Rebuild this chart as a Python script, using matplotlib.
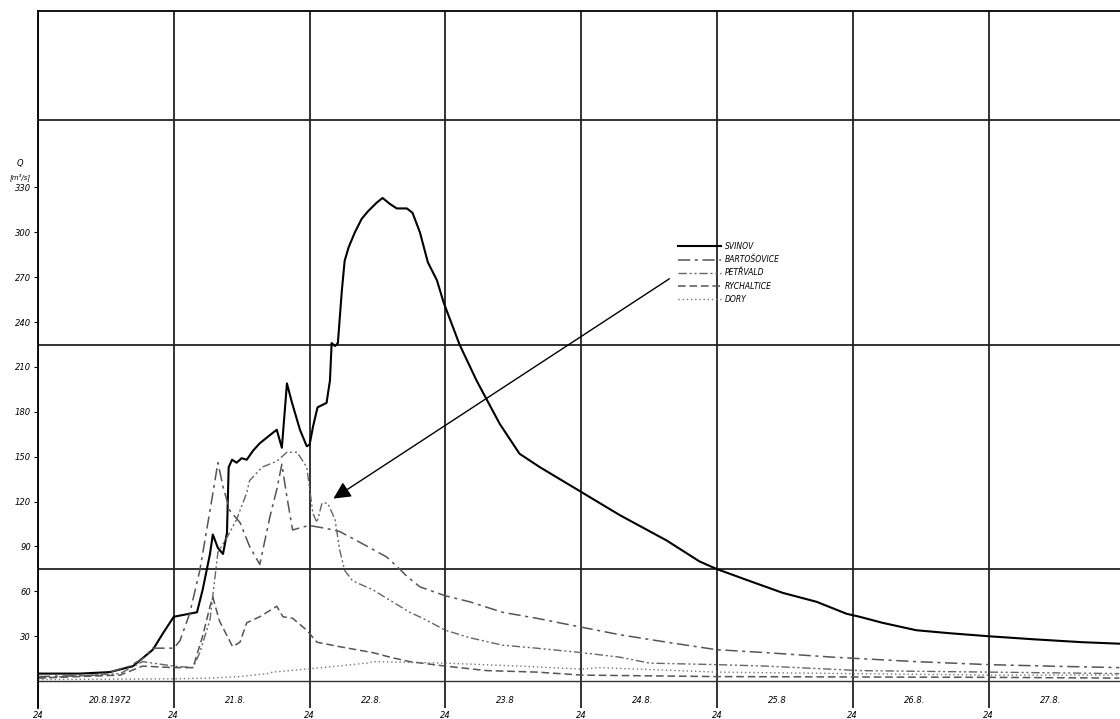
import matplotlib.pyplot as plt

# hydrograph, flood of August 1972 (time in hours from 20.8. 0:00, Q in m3/s)
svinov_t = [0, 7.4, 12.7, 16.8, 20.3, 22.1, 24.0, 28.1, 29.1, 30.4, 30.9, 31.8,
            32.7, 33.4, 33.7, 34.3, 35.1, 36.0, 36.9, 38.0, 39.2, 41.5, 42.2,
            43.1, 44.0, 44.9, 46.3, 47.5, 48.0, 48.6, 49.4, 51.0, 51.6, 51.9,
            52.5, 53.0, 53.7, 54.2, 54.9, 56.0, 57.2, 58.3, 59.9, 60.9, 62.2,
            63.4, 65.2, 66.2, 67.5, 68.9, 70.5, 71.7, 74.5, 77.5, 81.6, 85.1,
            88.7, 96.2, 102.8, 111.1, 116.9, 119.9, 125.7, 131.6, 137.6,
            142.9, 145.2, 149.2, 155.2, 161.1, 167.9, 175.7, 184.5, 191.1]
svinov_q = [5, 5, 6, 10, 21, 32, 43, 46, 61, 85, 98, 89,
            85, 99, 143, 148, 146, 149, 148, 154, 159, 166, 168,
            156, 199, 186, 168, 157, 158, 170, 183, 186, 201, 226,
            224, 226, 261, 281, 290, 300, 309, 314, 320, 323, 319,
            316, 316, 313, 300, 280, 268, 253, 225, 201, 172, 152,
            143, 126, 111, 94, 80, 75, 67, 59, 53,
            45, 43, 39, 34, 32, 30, 28, 26, 25]

bartosovice_t = [0, 10.9, 16.2, 18.5, 20.3, 24.0, 25.1, 26.8, 28.6, 30.4, 31.8,
                 32.7, 33.9, 35.7, 37.4, 39.2, 41.0, 42.2, 43.1, 44.0, 45.0,
                 46.8, 48.0, 51.0, 53.3, 56.3, 59.2, 61.6, 63.9, 65.2, 67.5,
                 72.0, 76.3, 82.1, 88.1, 96.1, 102.8, 111.1, 119.9, 128.7,
                 140.4, 155.2, 167.9, 178.7, 191.1]
bartosovice_q = [3, 4, 10, 15, 22, 22, 27, 45, 74, 114, 146,
                 130, 114, 106, 90, 78, 110, 128, 145, 123, 101,
                 103, 104, 102, 100, 94, 88, 83, 75, 70, 63,
                 57, 53, 46, 42, 36, 31, 26, 21, 19,
                 16, 13, 11, 10, 9]

petrvald_t = [0, 14.5, 18.5, 24.0, 27.4, 28.6, 30.4, 31.8, 33.4, 35.1, 36.9,
              37.4, 39.6, 42.2, 44.0, 45.8, 47.5, 48.6, 49.3, 50.2, 51.2,
              52.5, 53.3, 54.2, 55.6, 59.2, 62.2, 65.7, 68.0, 72.0, 76.3,
              82.1, 88.1, 96.1, 102.8, 108.1, 119.9, 128.7, 145.2, 167.9, 191.1]
petrvald_q = [2, 5, 13, 10, 9, 19, 41, 86, 96, 108, 126,
              134, 143, 147, 153, 153, 143, 112, 106, 119, 119,
              108, 88, 74, 67, 61, 54, 46, 42, 34, 29,
              24, 22, 19, 16, 12, 11, 10, 7, 6, 5]

rychaltice_t = [0, 14.5, 18.5, 24.0, 27.4, 29.1, 30.4, 30.9, 32.1, 34.4, 35.7,
                36.9, 39.2, 42.2, 43.3, 45.0, 47.5, 49.3, 53.3, 59.2, 62.2,
                65.7, 72.0, 79.3, 88.1, 96.1, 119.9, 167.9, 191.1]
rychaltice_q = [2, 4, 10, 9, 9, 30, 50, 56, 40, 23, 26,
                39, 43, 50, 43, 42, 34, 26, 23, 19, 16,
                13, 10, 7, 6, 4, 3, 2.5, 2]

dory_t = [0, 24.0, 30.4, 35.7, 40.5, 41.5, 50.3, 58.1, 59.2, 72.0, 85.1,
          96.1, 99.2, 119.9, 143.5, 167.9, 191.1]
dory_q = [1, 1.5, 2, 3, 5, 6, 9, 12, 13, 12, 10,
          8, 9, 6, 5, 4, 4]

day_labels = ["20.8.1972", "21.8.", "22.8.", "23.8", "24.8.", "25.8", "26.8.", "27.8."]
q_ticks = [30, 60, 90, 120, 150, 180, 210, 240, 270, 300, 330]


def main():
    fig = plt.figure(figsize=(11.2, 7.19), dpi=100)
    ax = fig.add_axes([0.0339, 0.0153, 0.966, 0.9694])

    ax.plot(svinov_t, svinov_q, color="black", lw=1.5, label="SVINOV")
    ax.plot(bartosovice_t, bartosovice_q, color="#555555", lw=1.1,
            ls=(0, (8, 3, 2, 3)), label="BARTOŠOVICE")
    ax.plot(petrvald_t, petrvald_q, color="#666666", lw=1.0,
            ls=(0, (6, 2, 1.5, 2, 1.5, 2)), label="PETŘVALD")
    ax.plot(rychaltice_t, rychaltice_q, color="#555555", lw=1.1,
            ls=(0, (5, 2.5)), label="RYCHALTICE")
    ax.plot(dory_t, dory_q, color="#777777", lw=1.0,
            ls=(0, (1, 2)), label="DORY")
    ax.axhline(0, color="#333333", lw=1.0)

    ax.set_xlim(0, 191.2)
    ax.set_ylim(-18, 448)

    # grid: days and every 75 m3/s
    ax.set_xticks(range(0, 192, 24))
    ax.set_xticklabels(["24"] * 8, fontsize=6, style="italic")
    ax.set_yticks(q_ticks)
    ax.set_yticklabels([str(q) for q in q_ticks], fontsize=6, style="italic")
    ax.set_yticks(range(75, 449, 75), minor=True)
    ax.tick_params(axis="x", length=0, pad=2)
    ax.tick_params(axis="y", which="major", length=3, width=0.8, pad=2)
    ax.tick_params(axis="y", which="minor", length=0)
    ax.grid(axis="x", which="major", color="#222222", lw=1.3)
    ax.grid(axis="y", which="minor", color="#222222", lw=1.3)
    ax.set_axisbelow(True)

    for s in ["bottom", "right"]:
        ax.spines[s].set_visible(False)
    ax.spines["left"].set_linewidth(1.3)
    ax.spines["top"].set_linewidth(1.3)

    for i, lab in enumerate(day_labels):
        ax.text(i * 24 + 9, -12.7, lab, fontsize=6, style="italic",
                ha="left", va="center")

    ax.text(-3.2, 346, "Q", fontsize=6, style="italic", ha="center",
            va="center", clip_on=False)
    ax.text(-3.2, 337, "[m³/s]", fontsize=5, style="italic", ha="center",
            va="center", clip_on=False)

    ax.annotate("", xy=(51.8, 121), xytext=(112, 270),
                arrowprops=dict(arrowstyle="-|>", color="black", lw=1,
                                mutation_scale=26))

    ax.legend(loc="upper left", bbox_to_anchor=(0.5915, 0.6686), frameon=False,
              prop=dict(size=5.5, style="italic"), handlelength=5.6,
              handletextpad=0.5, labelspacing=0.55, borderpad=0,
              borderaxespad=0)

    fig.savefig("out.png", dpi=100)


if __name__ == "__main__":
    main()
